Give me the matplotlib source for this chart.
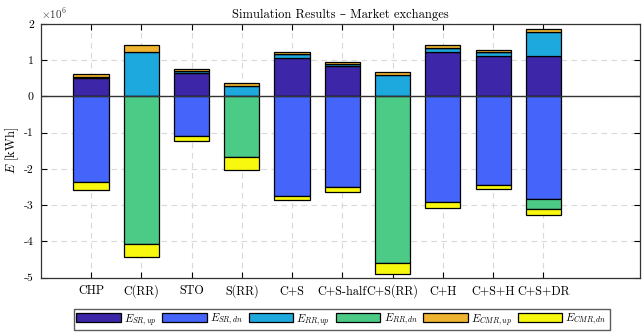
import matplotlib
matplotlib.use("Agg")
import matplotlib.pyplot as plt
import numpy as np

plt.rcParams['font.family'] = ['cmr10', 'DejaVu Serif']
plt.rcParams['mathtext.fontset'] = 'cm'
plt.rcParams['axes.unicode_minus'] = False
plt.rcParams['axes.formatter.use_mathtext'] = True

cases = ["CHP", "C(RR)", "STO", "S(RR)", "C+S", "C+S-half", "C+S(RR)",
         "C+H", "C+S+H", "C+S+DR"]

# energy exchanged per market [10^6 kWh]
sr_up = [0.52, 0.00, 0.65, 0.00, 1.07, 0.83, 0.00, 1.23, 1.12, 1.12]
rr_up = [0.01, 1.23, 0.05, 0.30, 0.09, 0.07, 0.60, 0.12, 0.12, 0.65]
cmr_up = [0.08, 0.19, 0.06, 0.06, 0.06, 0.06, 0.07, 0.06, 0.05, 0.10]
sr_dn = [-2.36, 0.00, -1.08, 0.00, -2.75, -2.50, 0.00, -2.92, -2.45, -2.82]
rr_dn = [0.00, -4.07, 0.00, -1.66, 0.00, 0.00, -4.60, 0.00, 0.00, -0.29]
cmr_dn = [-0.21, -0.36, -0.15, -0.37, -0.11, -0.14, -0.30, -0.15, -0.11, -0.17]

series = [
    (r"$E_{SR,up}$", sr_up, "#3d27a8"),
    (r"$E_{SR,dn}$", sr_dn, "#4464fa"),
    (r"$E_{RR,up}$", rr_up, "#1ea9de"),
    (r"$E_{RR,dn}$", rr_dn, "#4bcb86"),
    (r"$E_{CMR,up}$", cmr_up, "#efb42f"),
    (r"$E_{CMR,dn}$", cmr_dn, "#f8f80f"),
]

scale = 1e6
x = np.arange(1, len(cases) + 1)

fig = plt.figure(figsize=(6.42, 3.33), dpi=100)
ax = fig.add_axes([0.0635, 0.166, 0.934, 0.762])

pos_bottom = np.zeros(len(cases))
neg_bottom = np.zeros(len(cases))
handles = {}
for label, vals, color in series:
    v = np.array(vals) * scale
    up = v >= 0
    base = np.where(up, pos_bottom, neg_bottom)
    b = ax.bar(x, v, 0.7, bottom=base, color=color, edgecolor="black",
               linewidth=0.9, label=label, zorder=3)
    handles[label] = b
    pos_bottom = np.where(up, pos_bottom + v, pos_bottom)
    neg_bottom = np.where(~up, neg_bottom + v, neg_bottom)

ax.axhline(0, color="#333333", linewidth=1.0, zorder=4)

ax.set_xlim(0, 11.93)
ax.set_ylim(-5 * scale, 2 * scale)
ax.set_xticks(x)
ax.set_xticklabels(cases, fontsize=8.8)
yt = np.arange(-5, 3)
ax.set_yticks(yt * scale)
ax.set_yticklabels([str(t) for t in yt], fontsize=8.5)
ax.tick_params(direction="in", length=4, top=True, right=True,
               width=0.8, pad=5)
ax.grid(True, linestyle=(0, (5, 4)), color="#d9d9d9", linewidth=0.8, zorder=0)
for s in ax.spines.values():
    s.set_color("#333333")
    s.set_linewidth(0.9)

ax.text(0.0, 1.01, r"$\times10^6$", transform=ax.transAxes, fontsize=8,
        ha="left", va="bottom", color="#333333")
ax.set_title("Simulation Results \u2013 Market exchanges", fontsize=9,
             pad=4)
ax.set_ylabel(r"$E$ [kWh]", fontsize=9, labelpad=2)

order = [lbl for lbl, _, _ in series]
fig.legend([handles[l] for l in order], order, loc="center",
           bbox_to_anchor=(0.532, 0.04), ncol=6, fontsize=8,
           frameon=True, fancybox=False, edgecolor="#333333",
           handlelength=4.0, handleheight=0.9, columnspacing=0.5,
           handletextpad=0.3, borderpad=0.25)

fig.savefig("out.png", dpi=100)
